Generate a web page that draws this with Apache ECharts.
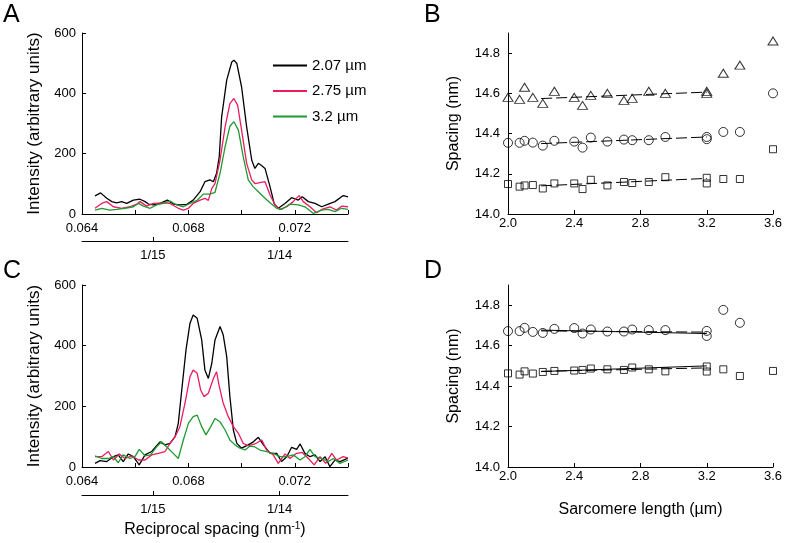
<!DOCTYPE html>
<html>
<head>
<meta charset="utf-8">
<script src="https://cdn.jsdelivr.net/npm/echarts@6/dist/echarts.min.js"></script>
<style>html,body{margin:0;padding:0;background:#fff}#c{width:787px;height:543px}</style>
</head>
<body>
<div id="c"></div>
<script>
// ---------- Panel A profiles ----------
const seriesNames = ['2.07 \u00b5m', '2.75 \u00b5m', '3.2 \u00b5m'];
const aBlackX = [0.06449,0.0647,0.06493,0.06512,0.0653,0.06549,0.06568,0.06593,0.06618,0.06637,0.0665,0.06668,0.06693,0.06721,0.06743,0.06768,0.06794,0.06818,0.06844,0.06862,0.06881,0.06894,0.06906,0.06916,0.06925,0.06944,0.06963,0.06971,0.06982,0.070,0.07019,0.07038,0.0705,0.07063,0.07076,0.07088,0.07107,0.07123,0.07138,0.07163,0.07188,0.07213,0.07228,0.07251,0.07276,0.07301,0.07326,0.07351,0.07382,0.074];
const aBlackY = [60,70,52,41,37,41,35,46,49,41,33,30,35,46,33,30,32,46,74,107,113,107,135,190,322,444,504,510,499,421,289,179,151,168,160,151,90,33,19,35,54,46,57,41,35,24,33,41,61,57];
const aRedX = [0.06449,0.06474,0.06493,0.06518,0.06549,0.0658,0.06606,0.06618,0.06643,0.06668,0.06706,0.06731,0.06762,0.06781,0.068,0.06818,0.06844,0.06862,0.06875,0.06888,0.069,0.06919,0.06938,0.06956,0.06971,0.06985,0.070,0.07019,0.07038,0.0705,0.07069,0.07088,0.07107,0.07126,0.07144,0.0717,0.07194,0.07216,0.07232,0.07257,0.07282,0.07301,0.07332,0.07357,0.07376,0.074];
const aRedY = [19,35,41,24,19,24,33,41,26,35,37,35,19,13,19,35,46,52,45,85,101,179,289,366,383,361,278,168,113,101,104,107,63,30,15,24,41,61,41,24,4,15,24,13,26,24];
const aGreenX = [0.06449,0.06474,0.06505,0.0653,0.06562,0.06593,0.06612,0.06631,0.06656,0.06681,0.06706,0.06731,0.06756,0.06781,0.06806,0.06831,0.06856,0.06881,0.069,0.06919,0.06938,0.06956,0.06971,0.06988,0.07006,0.07025,0.07044,0.07063,0.07088,0.07107,0.07132,0.0715,0.07182,0.07213,0.07238,0.0727,0.07301,0.07326,0.07351,0.07376,0.074];
const aGreenY = [13,19,13,15,19,24,35,26,19,30,35,43,30,24,35,44,66,66,72,135,223,291,306,278,190,113,90,74,52,37,19,15,33,30,24,2,13,15,8,19,15];

// ---------- Panel C profiles ----------
const cBlackX = [0.06449,0.06468,0.06493,0.06518,0.06536,0.06555,0.06574,0.06593,0.06615,0.06637,0.06662,0.06693,0.06712,0.06731,0.0675,0.06762,0.06775,0.06791,0.06806,0.06818,0.06833,0.0685,0.06862,0.06875,0.06888,0.069,0.06919,0.06931,0.06944,0.06956,0.06969,0.06982,0.070,0.07025,0.07044,0.07063,0.07082,0.07107,0.07132,0.0715,0.0717,0.07188,0.07207,0.0722,0.07238,0.07257,0.07276,0.07295,0.07314,0.07332,0.07351,0.0737,0.074];
const cBlackY = [12,21,18,34,40,18,43,34,7,40,51,83,73,78,100,144,254,386,474,501,490,419,320,292,342,419,463,435,364,232,122,78,62,73,83,98,73,45,45,18,34,65,58,76,45,34,40,18,34,1,23,18,29];
const cRedX = [0.06449,0.06474,0.06499,0.06518,0.0654,0.06562,0.06587,0.06612,0.06637,0.06662,0.06687,0.06712,0.06731,0.0675,0.06768,0.06787,0.06806,0.06818,0.06833,0.06846,0.06859,0.06875,0.06894,0.06906,0.06915,0.06931,0.0695,0.06969,0.06988,0.07006,0.07025,0.0705,0.07076,0.07094,0.07119,0.07138,0.07163,0.07182,0.07207,0.07228,0.07251,0.07273,0.07295,0.07316,0.07339,0.07357,0.07382,0.074];
const cRedY = [34,34,51,23,43,28,37,23,23,40,45,51,78,100,133,210,298,320,309,254,232,243,292,314,270,210,166,133,111,78,70,76,89,56,40,12,43,28,45,48,28,7,34,12,45,23,34,29];
const cGreenX = [0.06449,0.06474,0.06499,0.06518,0.06536,0.06555,0.0658,0.06599,0.06615,0.06637,0.06658,0.06681,0.06699,0.06718,0.06743,0.06762,0.06781,0.068,0.06818,0.06833,0.0685,0.06866,0.06884,0.069,0.06919,0.06938,0.06956,0.06975,0.06994,0.07013,0.07032,0.0705,0.07069,0.07094,0.07119,0.07144,0.0717,0.07194,0.0722,0.07238,0.07257,0.07276,0.07301,0.07326,0.07345,0.0737,0.074];
const cGreenY = [37,28,28,34,14,40,28,34,58,37,40,67,83,67,45,28,89,144,166,171,133,106,133,160,149,122,89,73,62,56,69,66,56,51,45,34,34,40,23,34,58,34,28,18,28,12,23];

// ---------- Panel B spacings ----------
const sarcX = [2.0,2.07,2.10,2.15,2.21,2.28,2.40,2.45,2.50,2.60,2.70,2.75,2.85,2.95,3.20,3.20,3.30,3.40,3.60];
const bTriangle = [14.58,14.57,14.63,14.58,14.55,14.61,14.58,14.54,14.59,14.60,14.565,14.575,14.61,14.60,14.61,14.60,14.70,14.74,14.86];
const bCircle = [14.354,14.354,14.364,14.355,14.34,14.364,14.36,14.33,14.38,14.36,14.37,14.367,14.367,14.383,14.383,14.372,14.408,14.408,14.60];
const bSquare = [14.149,14.136,14.142,14.144,14.127,14.152,14.152,14.124,14.17,14.142,14.159,14.154,14.159,14.183,14.18,14.152,14.174,14.174,14.322];
const fitX = [2.2, 3.2];
const bTriFit = [14.574, 14.606];
const bCircFit = [14.350, 14.383];
const bSqFit = [14.140, 14.177];

// ---------- Panel D spacings ----------
const dCircleX = [2.0,2.07,2.10,2.15,2.21,2.28,2.40,2.45,2.50,2.60,2.70,2.75,2.85,2.95,3.20,3.20,3.30,3.40];
const dCircle = [14.672,14.672,14.688,14.668,14.663,14.683,14.687,14.66,14.68,14.67,14.67,14.68,14.677,14.677,14.673,14.648,14.777,14.713];
const dSquare = [14.463,14.457,14.473,14.462,14.47,14.475,14.477,14.48,14.487,14.483,14.48,14.492,14.483,14.473,14.497,14.472,14.483,14.45,14.475];
const dCircFitSolid = [14.677, 14.660];
const dCircFitDash = [14.673, 14.667];
const dSqFitSolid = [14.472, 14.500];
const dSqFitDash = [14.473, 14.490];

// ---------- tick labels ----------
const recipTickValues = [1/15, 1/14];
const recipTickLabels = ['1/15', '1/14'];
const spacingTicks = [14.0, 14.2, 14.4, 14.6, 14.8];

const FONT = 'Liberation Sans, Arial, sans-serif';
const colors = ['#000000', '#ec1c5e', '#1f9a30'];
const zip = (xs, ys) => xs.map((x, i) => [x, ys[i]]);

const axisLineStyle = { show: true, lineStyle: { color: '#000', width: 1 } };
const tickStyle = { show: true, inside: true, length: 4, lineStyle: { color: '#000', width: 1 } };
const labelStyle = { color: '#000', fontSize: 13, fontFamily: FONT };

function recipMainX(gridIndex) {
  return {
    type: 'value', gridIndex, min: 0.064, max: 0.074, interval: 0.002,
    axisLine: axisLineStyle, axisTick: tickStyle, splitLine: { show: false },
    axisLabel: Object.assign({}, labelStyle, { margin: 8,
      formatter: v => (Math.round(v * 1000) % 4 === 0 ? v.toFixed(3) : '') })
  };
}
function recipSecondX(gridIndex, offset) {
  return {
    type: 'value', gridIndex, position: 'bottom', offset, min: 0.064, max: 0.074,
    axisLine: axisLineStyle,
    axisTick: Object.assign({}, tickStyle, { customValues: recipTickValues }),
    splitLine: { show: false },
    axisLabel: Object.assign({}, labelStyle, { margin: 8, customValues: recipTickValues,
      formatter: v => {
        let best = 0, d = Infinity;
        recipTickValues.forEach((t, i) => { if (Math.abs(t - v) < d) { d = Math.abs(t - v); best = i; } });
        return recipTickLabels[best];
      } })
  };
}
function intensityY(gridIndex) {
  return {
    type: 'value', gridIndex, min: 0, max: 600, interval: 200,
    axisLine: axisLineStyle, axisTick: tickStyle, splitLine: { show: false },
    axisLabel: Object.assign({}, labelStyle, { margin: 6 }),
    name: 'Intensity (arbitrary units)', nameLocation: 'middle', nameGap: 39,
    nameTextStyle: { color: '#000', fontSize: 17, fontFamily: FONT }
  };
}
function sarcX_axis(gridIndex, name) {
  const a = {
    type: 'value', gridIndex, min: 2.0, max: 3.6, interval: 0.4,
    axisLine: axisLineStyle, axisTick: tickStyle, splitLine: { show: false },
    axisLabel: Object.assign({}, labelStyle, { margin: 3, formatter: v => v.toFixed(1) })
  };
  if (name) {
    a.name = name; a.nameLocation = 'middle'; a.nameGap = 35;
    a.nameTextStyle = { color: '#000', fontSize: 16, fontFamily: FONT };
  }
  return a;
}
function spacingY(gridIndex) {
  return {
    type: 'value', gridIndex, min: 14.0, max: 14.9,
    axisLine: axisLineStyle,
    axisTick: Object.assign({}, tickStyle, { customValues: spacingTicks }),
    splitLine: { show: false },
    axisLabel: Object.assign({}, labelStyle, { margin: 8, customValues: spacingTicks, formatter: v => v.toFixed(1) }),
    name: 'Spacing (nm)', nameLocation: 'middle', nameGap: 46,
    nameTextStyle: { color: '#000', fontSize: 16, fontFamily: FONT }
  };
}

function curve(name, xs, ys, color, xi, yi) {
  return { type: 'line', name, data: zip(xs, ys), xAxisIndex: xi, yAxisIndex: yi,
    symbol: 'none', lineStyle: { color, width: 1.3 }, itemStyle: { color }, animation: false };
}
function scatter(xs, ys, symbol, size, xi, yi) {
  return { type: 'scatter', data: zip(xs, ys), xAxisIndex: xi, yAxisIndex: yi, symbol, symbolSize: size,
    itemStyle: { color: 'rgba(0,0,0,0)', borderColor: '#000', borderWidth: 1 }, z: 3, animation: false };
}
function fit(ys, xi, yi, dashed) {
  return { type: 'line', data: zip(fitX, ys), xAxisIndex: xi, yAxisIndex: yi, symbol: 'none',
    lineStyle: { color: '#000', width: 1, type: dashed ? [11, 4] : 'solid' }, z: 2, animation: false };
}

const chart = echarts.init(document.getElementById('c'), null, { renderer: 'canvas' });
chart.setOption({
  backgroundColor: '#fff',
  animation: false,
  textStyle: { fontFamily: FONT },
  grid: [
    { left: 82, top: 33, width: 266, height: 181 },
    { left: 82, top: 285, width: 266, height: 182 },
    { left: 508, top: 33, width: 265, height: 181 },
    { left: 508, top: 285, width: 265, height: 182 }
  ],
  xAxis: [
    recipMainX(0),
    recipSecondX(0, 27),
    Object.assign(recipMainX(1), { name: 'Reciprocal spacing (nm{sup|-1})', nameLocation: 'middle', nameGap: 54,
      nameTextStyle: { color: '#000', fontSize: 16, fontFamily: FONT,
        rich: { sup: { fontSize: 10, verticalAlign: 'top', padding: [0, 0, 8, 0], color: '#000', fontFamily: FONT } } } }),
    recipSecondX(1, 28),
    sarcX_axis(2, null),
    sarcX_axis(3, 'Sarcomere length (\u00b5m)')
  ],
  yAxis: [ intensityY(0), intensityY(1), spacingY(2), spacingY(3) ],
  legend: {
    data: seriesNames, orient: 'vertical', left: 268, top: 53, icon: 'rect',
    itemWidth: 34, itemHeight: 2, itemGap: 10.5,
    textStyle: { color: '#000', fontSize: 15, fontFamily: FONT }
  },
  graphic: [
    { type: 'text', left: 3, top: 3, style: { text: 'A', fontSize: 25, fontFamily: FONT, fill: '#000' } },
    { type: 'text', left: 424, top: 3, style: { text: 'B', fontSize: 25, fontFamily: FONT, fill: '#000' } },
    { type: 'text', left: 3, top: 259, style: { text: 'C', fontSize: 25, fontFamily: FONT, fill: '#000' } },
    { type: 'text', left: 424, top: 259, style: { text: 'D', fontSize: 25, fontFamily: FONT, fill: '#000' } }
  ],
  series: [
    curve(seriesNames[0], aBlackX, aBlackY, colors[0], 0, 0),
    curve(seriesNames[1], aRedX, aRedY, colors[1], 0, 0),
    curve(seriesNames[2], aGreenX, aGreenY, colors[2], 0, 0),
    curve(seriesNames[0], cBlackX, cBlackY, colors[0], 2, 1),
    curve(seriesNames[1], cRedX, cRedY, colors[1], 2, 1),
    curve(seriesNames[2], cGreenX, cGreenY, colors[2], 2, 1),
    fit(bTriFit, 4, 2, true),
    fit(bCircFit, 4, 2, true),
    fit(bSqFit, 4, 2, true),
    scatter(sarcX, bTriangle, 'triangle', [10, 8], 4, 2),
    scatter(sarcX, bCircle, 'circle', 9, 4, 2),
    scatter(sarcX, bSquare, 'rect', 7, 4, 2),
    fit(dCircFitSolid, 5, 3, false),
    fit(dCircFitDash, 5, 3, true),
    fit(dSqFitSolid, 5, 3, false),
    fit(dSqFitDash, 5, 3, true),
    scatter(dCircleX, dCircle, 'circle', 9, 5, 3),
    scatter(sarcX, dSquare, 'rect', 7, 5, 3)
  ]
});
</script>
</body>
</html>
